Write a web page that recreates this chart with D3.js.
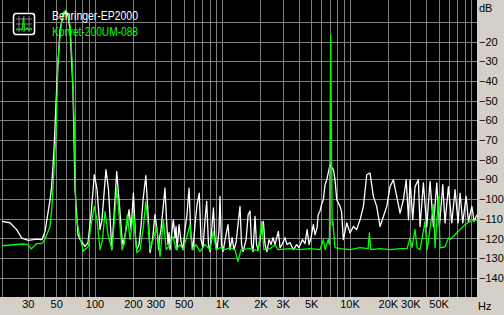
<!DOCTYPE html>
<html>
<head>
<meta charset="utf-8">
<script src="https://cdn.jsdelivr.net/npm/d3@7"></script>
<style>
  body { margin: 0; background: #d4d0c8; }
  text { font-family: "Liberation Sans", Arial, sans-serif; }
</style>
</head>
<body>
<script>
// spectrum, Hz / dB
var behringer = [
  [18.8,-111.3],[21.7,-112],[24.5,-115.5],[26.9,-119.8],[30.3,-121],[35.2,-120.3],[38.7,-120.6],[40.9,-116.4],[44.8,-100.3],[46.1,-93.6],
  [48.1,-74.9],[50.8,-39.4],[53.6,-14],[56.7,-6.4],[59.3,-4.9],[62,-7],[64.3,-14],[67.8,-44.5],[70.3,-95.2],[74.2,-118.1],
  [77,-120.6],[84.2,-124],[88.9,-122.1],[93.9,-107.9],[99.6,-87.6],[104.6,-95.2],[110.4,-115.5],[114.4,-110.5],[122.9,-85],[128.7,-95.2],
  [136.6,-125.7],[142.3,-107.9],[149.3,-86],[155.6,-100.3],[164.4,-120.6],[167.3,-123.1],[176.8,-115.5],[186.5,-105.4],[193.7,-115.5],[201.8,-96.8],
  [210,-120.6],[214.5,-125.7],[223.5,-123.1],[232,-113],[240.3,-100.3],[252.5,-88.1],[263.3,-107.9],[272.5,-127.2],[285,-120.6],[298,-107.9],
  [309,-115.5],[318,-125.7],[325,-119],[332,-115.5],[347,-102.8],[357,-94.4],[367,-110.5],[377,-123.1],[384,-117],[391,-125.7],[402,-118.1],[415,-110.5],
  [428,-119.6],[436,-114],[444,-125.7],[460,-113],[477,-121.6],[495,-125.7],[512,-115.5],[531,-107.9],[551,-94.4],[570,-118.1],[592,-125.7],
  [614,-113],[637,-102.8],[663,-97],[684,-120.6],[709,-124.7],[736,-110.5],[758,-101.2],[783,-123.1],[805,-126.7],[836,-113],
  [856,-104.5],[881,-120.6],[914,-125.7],[948,-115.5],[964,-98.6],[990,-123.1],[1018,-126.7],[1075,-118.1],[1115,-113],[1155,-125.7],
  [1199,-119.6],[1241,-125.7],[1288,-122.1],[1335,-113],[1384,-103.7],[1423,-123.1],[1463,-126.7],[1545,-120.6],[1603,-107.9],[1658,-106],
  [1704,-123.1],[1752,-126.7],[1815,-108.8],[1865,-123.1],[1920,-125.7],[1986,-120.6],[2050,-114.5],[2110,-111.3],[2174,-123.1],[2253,-126.7],
  [2336,-120.6],[2422,-123.1],[2511,-119.6],[2604,-123.1],[2766,-116.4],[2851,-124.7],[2956,-123.1],[3120,-119.6],[3235,-123.1],[3415,-122.1],
  [3627,-125.7],[3850,-123.1],[4010,-124.7],[4270,-120.6],[4478,-122.6],[4650,-115.5],[4820,-123.1],[4990,-119.6],[5200,-113],[5364,-118.1],
  [5570,-114.5],[5680,-107.9],[5871,-106],[6030,-102.8],[6230,-100.3],[6427,-92.7],[6630,-90.2],[7034,-82.5],[7470,-85],[7699,-90.2],
  [7940,-100.3],[8427,-103.7],[8660,-106.4],[8950,-120.6],[9520,-112.1],[10095,-117.2],[10720,-113.9],[11370,-115.5],[12095,-110.5],[12850,-103.7],
  [13650,-87.6],[14490,-86.7],[15380,-98.6],[16340,-103.7],[17360,-113.9],[18440,-108.8],[19590,-103.7],[20796,-93.6],[22090,-90.2],[23460,-98.6],
  [24910,-107.1],[26460,-100.3],[27840,-90.2],[29040,-110.5],[29840,-90.2],[31340,-110.5],[32660,-93.6],[34690,-90.2],[35750,-113.9],[37970,-91.8],
  [40350,-113.9],[42830,-91],[45510,-113.9],[48350,-91.8],[50710,-113.9],[53910,-92.7],[56160,-112.1],[59680,-93.6],[63420,-112.1],[67280,-95.2],
  [71070,-112.1],[73640,-96.9],[77340,-112.1],[82150,-98.6],[85710,-111.3],[91080,-103.7],[94960,-111.3],[100000,-107.9]
]

var korvet = [
  [18.8,-123.7],[27.2,-122.8],[30,-123.1],[31.8,-125.3],[35.2,-122.6],[38.7,-122.6],[40.9,-120.3],[44.8,-113.9],[46.4,-102.8],[47.5,-91.7],
  [50,-65],[51.7,-29.3],[54.7,-11.5],[56.7,-5.4],[59.3,-3.9],[62,-5.9],[64.3,-11.5],[66.6,-29.2],[69.1,-59.7],[71.6,-108.8],
  [77,-119.6],[81.7,-126.5],[89.4,-124],[93.9,-113],[99.6,-103.7],[104.6,-110.5],[110.4,-125.7],[115.5,-120.6],[120.9,-106.3],[127.6,-118],
  [136.6,-125.7],[142.3,-113],[149.3,-94.4],[155.6,-107.9],[164.4,-125.7],[170.5,-123.1],[180.9,-107.9],[189.9,-120.6],[201.8,-106.9],[214.5,-127.2],
  [227.5,-125.7],[240.3,-115.5],[252.5,-101.2],[263.3,-113],[272.5,-125.7],[287.6,-120.6],[307.6,-113.9],[326.5,-129.1],[347,-110.5],[365,-125.7],
  [391,-123.1],[413,-119],[436,-125.7],[468,-123.1],[495,-125.7],[522,-120.6],[561,-113],[582,-125.7],[625,-123.1],[672,-126.7],
  [736,-123.1],[805,-125.7],[853,-116.4],[898,-125.7],[964,-124.7],[1055,-125.7],[1155,-124.7],[1264,-125.7],[1335,-131.6],[1410,-125.7],
  [1658,-125.2],[1922,-126.2],[2050,-111.3],[2130,-125.7],[2380,-125.2],[2604,-123.1],[2750,-125.7],[3415,-125.2],[4091,-125.7],[4901,-125.2],
  [5871,-125.7],[6230,-120.6],[6427,-125.7],[6800,-120.6],[6950,-123.1],[7120,-16.5],[7300,-113],[7400,-111.3],[7700,-124.7],[8427,-125.2],
  [10095,-125.7],[12095,-124.7],[13990,-125.2],[14320,-117.2],[14700,-125.7],[17360,-125.2],[20796,-125.7],[24910,-125.2],[28280,-125.2],[29840,-119.7],
  [30950,-124.7],[32660,-115.5],[33900,-124.7],[35750,-125.7],[39130,-111.3],[40600,-125.7],[45500,-102.8],[46880,-124.7],[49850,-98.6],[51310,-124.8],
  [56160,-124.2],[59700,-119.7],[61470,-120.6],[65400,-118.9],[70000,-117],[73640,-115.5],[80600,-113],[88220,-111.3],[100000,-110.5]
]

var seriesNames = ["Behringer-EP2000", "Korvet-200UM-088"]
var seriesColors = ["#ffffff", "#00ff00"]

var hzLabels = [30, 50, 100, 200, 300, 500, 1000, 2000, 3000, 5000, 10000, 20000, 30000, 50000]
var dbLabels = [-20, -30, -40, -50, -60, -70, -80, -90, -100, -110, -120, -130, -140]
var dbGrid = d3.range(-10, -150, -10)

// 30..90, 100..900, 1K..9K, 10K..90K
var hzGrid = []
;[10, 100, 1000, 10000].forEach(function (dec) {
  for (var k = 1; k < 10; k++) if (k * dec >= 30) hzGrid.push(k * dec)
})

var width = 504
var height = 315
var plot = { left: 0, top: 0, right: 477, bottom: 297 }
var font = "Liberation Sans, Arial, sans-serif"

var x = d3.scaleLog().domain([18.8, 100000]).range([2, 477])
var y = d3.scaleLinear().domain([0, -150]).range([2.4, 297.5])

var svg = d3.select("body").append("svg")
  .attr("width", width)
  .attr("height", height)

svg.append("rect")
  .attr("width", width).attr("height", height)
  .attr("fill", "#d4d0c8")

svg.append("rect")
  .attr("x", plot.left).attr("y", plot.top)
  .attr("width", plot.right - plot.left).attr("height", plot.bottom - plot.top)
  .attr("fill", "#000")

svg.append("defs").append("clipPath").attr("id", "clip")
  .append("rect")
  .attr("x", plot.left).attr("y", plot.top)
  .attr("width", plot.right - plot.left).attr("height", plot.bottom - plot.top)

// grid
var gx = svg.append("g")
  .attr("transform", "translate(0," + plot.top + ")")
  .call(d3.axisBottom(x).tickValues(hzGrid).tickSize(plot.bottom - plot.top).tickFormat(""))
var gy = svg.append("g")
  .attr("transform", "translate(" + plot.left + ",0)")
  .call(d3.axisRight(y).tickValues(dbGrid).tickSize(plot.right - plot.left).tickFormat(""))
;[gx, gy].forEach(function (g) {
  g.select(".domain").remove()
  g.selectAll("line").attr("stroke", "#808080").attr("shape-rendering", "crispEdges")
})

svg.append("line")
  .attr("x1", 2.5).attr("x2", 2.5).attr("y1", plot.top).attr("y2", plot.bottom)
  .attr("stroke", "#808080")

// curves
var line = d3.line().x(function (d) { return x(d[0]) }).y(function (d) { return y(d[1]) })
var curves = svg.append("g").attr("clip-path", "url(#clip)")
;[behringer, korvet].forEach(function (data, i) {
  curves.append("path")
    .datum(data)
    .attr("d", line)
    .attr("fill", "none")
    .attr("stroke", seriesColors[i])
    .attr("stroke-width", 1.3)
    .attr("stroke-linejoin", "round")
})

// axes labels
var ax = svg.append("g")
  .attr("transform", "translate(0," + plot.bottom + ")")
  .call(d3.axisBottom(x).tickValues(hzLabels).tickSize(0).tickPadding(3)
    .tickFormat(function (d) { return d >= 1000 ? (d / 1000) + "K" : d }))
ax.select(".domain").remove()
ax.selectAll("text").attr("font-size", 11).attr("fill", "#000").attr("font-family", font)

var ay = svg.append("g")
  .attr("transform", "translate(478,0)")
  .call(d3.axisRight(y).tickValues(dbLabels).tickSize(0).tickPadding(1))
ay.select(".domain").remove()
ay.selectAll("text").attr("font-size", 11).attr("fill", "#000").attr("font-family", font)

svg.append("text").attr("x", 479).attr("y", 12).attr("font-size", 11).attr("font-family", font).text("dB")
svg.append("text").attr("x", 478).attr("y", 310).attr("font-size", 11).attr("font-family", font).text("Hz")

// legend
var icon = svg.append("g").attr("transform", "translate(13,13)")
icon.append("rect")
  .attr("x", 0.5).attr("y", 0.5).attr("width", 21).attr("height", 21).attr("rx", 2.5)
  .attr("fill", "#000").attr("stroke", "#fff").attr("stroke-width", 1.5)
var iconGrid = [6, 11, 16]
iconGrid.forEach(function (v) {
  icon.append("line").attr("x1", v).attr("x2", v).attr("y1", 3).attr("y2", 19).attr("stroke", "#808080")
  icon.append("line").attr("y1", v).attr("y2", v).attr("x1", 3).attr("x2", 19).attr("stroke", "#808080")
})
var iconSpec = [1, 1.5, 1, 2, 1.2, 1, 11, 1, 1.5, 3, 1, 1.3, 2.5, 1]
var ix = d3.scaleLinear().domain([0, iconSpec.length - 1]).range([3, 19])
var iy = d3.scaleLinear().domain([0, 12]).range([18.5, 3])
icon.append("path")
  .datum(iconSpec)
  .attr("d", d3.line().x(function (d, i) { return ix(i) }).y(function (d) { return iy(d) }))
  .attr("fill", "none").attr("stroke", "#00ff00").attr("stroke-width", 1)

seriesNames.forEach(function (name, i) {
  svg.append("text")
    .attr("x", 52).attr("y", 19.5 + i * 16.5)
    .attr("font-size", 13)
    .attr("font-family", font)
    .attr("textLength", 86).attr("lengthAdjust", "spacingAndGlyphs")
    .attr("fill", seriesColors[i])
    .text(name)
})
</script>
</body>
</html>
